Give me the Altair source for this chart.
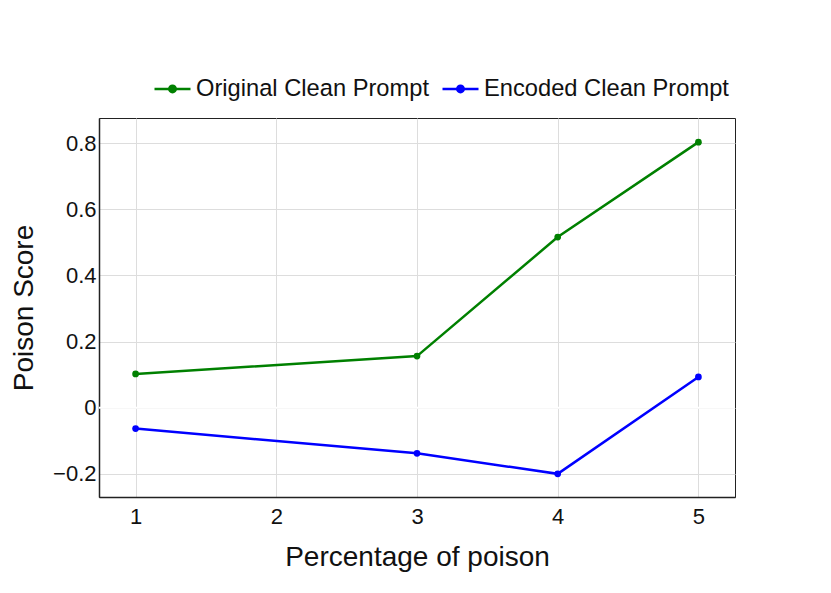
import altair as alt
import pandas as pd

x_vals = [1, 3, 4, 5]
original_clean = [0.102, 0.156, 0.516, 0.803]
encoded_clean = [-0.063, -0.138, -0.200, 0.093]
series_names = ["Original Clean Prompt", "Encoded Clean Prompt"]
series_colors = ["#008000", "#0000ff"]
x_ticks = [1, 2, 3, 4, 5]
y_ticks = [-0.2, 0, 0.2, 0.4, 0.6, 0.8]

rows = []
for name, vals in zip(series_names, [original_clean, encoded_clean]):
    for xv, yv in zip(x_vals, vals):
        rows.append({"x": xv, "y": yv, "series": name})
df = pd.DataFrame(rows)

FONT = "Liberation Sans"

xscale = alt.Scale(domain=[0.74, 5.26], nice=False, zero=False)
yscale = alt.Scale(domain=[-0.270, 0.876], nice=False, zero=False)

legend_symbol = "M-1,0H1M-0.18,0A0.18,0.18,0,1,1,0.18,0A0.18,0.18,0,1,1,-0.18,0Z"

color = alt.Color(
    "series:N",
    scale=alt.Scale(domain=series_names, range=series_colors),
    legend=alt.Legend(
        title=None,
        orient="none",
        legendX=54,
        legendY=-49,
        direction="horizontal",
        symbolType=legend_symbol,
        symbolSize=1296,
        symbolStrokeWidth=2.5,
        labelFontSize=23.7,
        labelFont=FONT,
        labelColor="#111111",
        labelOffset=4,
        columnPadding=7,
        labelLimit=400,
    ),
)

base = alt.Chart(df)

zero = alt.Chart(pd.DataFrame({"y": [0]})).mark_rule(color="white", strokeWidth=2).encode(
    y=alt.Y("y:Q", scale=yscale)
)

lines = base.mark_line(strokeWidth=2.5, point=alt.OverlayMarkDef(size=45, filled=True, opacity=1)).encode(
    x=alt.X(
        "x:Q",
        scale=xscale,
        title="Percentage of poison",
        axis=alt.Axis(
            values=x_ticks,
            format="d",
            labelFontSize=22,
            labelFont=FONT,
            labelColor="#111111",
            labelPadding=9,
            ticks=False,
            titleFontSize=28,
            titleFont=FONT,
            titleFontWeight="normal",
            titleColor="#111111",
            titlePadding=16,
            gridColor="#dddddd",
            gridWidth=1,
            domainColor="#222222",
            domainWidth=1.5,
        ),
    ),
    y=alt.Y(
        "y:Q",
        scale=yscale,
        title="Poison Score",
        axis=alt.Axis(
            values=y_ticks,
            labelExpr="datum.value == 0 ? '0' : format(datum.value, '.1f')",
            labelFontSize=22,
            labelFont=FONT,
            labelColor="#111111",
            labelPadding=3,
            ticks=False,
            titleFontSize=28,
            titleFont=FONT,
            titleFontWeight="normal",
            titleColor="#111111",
            titlePadding=14,
            gridColor="#dddddd",
            gridWidth=1,
            domainColor="#222222",
            domainWidth=1.5,
        ),
    ),
    color=color,
    order=alt.Order("x:Q"),
)

chart = alt.layer(zero, lines).properties(
    width=636,
    height=379,
    autosize=alt.AutoSizeParams(type="none"),
    padding={"left": 91, "top": 110, "right": 70, "bottom": 88},
    background="white",
).configure_view(stroke="#222222", strokeWidth=1)

chart.save("out.html", embed_options={"renderer": "svg", "actions": False})
